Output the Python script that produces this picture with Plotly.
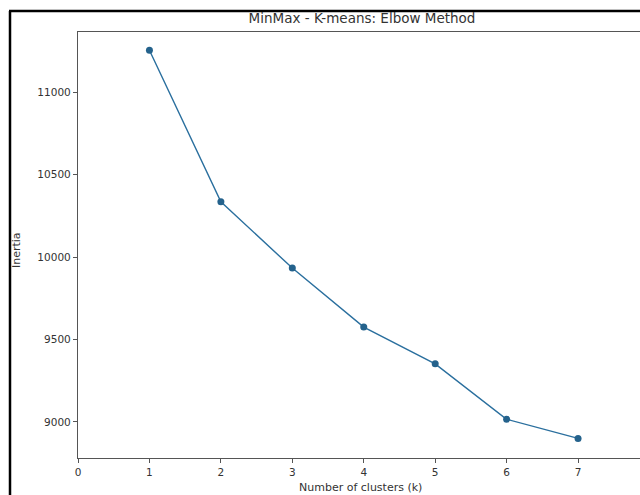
import plotly.graph_objects as go

# Data
clusters = [1, 2, 3, 4, 5, 6, 7]
inertia = [11254, 10335, 9933, 9575, 9352, 9016, 8900]
x_ticks = [0, 1, 2, 3, 4, 5, 6, 7]
y_ticks = [9000, 9500, 10000, 10500, 11000]

W, H = 640, 495
L, R, T, B = 78, 0, 32, 37
pw = W - L - R
ph = H - T - B

def px_x(p):
    return (p - L) / pw

def px_y(p):
    return (H - B - p) / ph

fig = go.Figure()
fig.add_trace(go.Scatter(
    x=clusters, y=inertia, mode="lines+markers",
    line=dict(color="#2a6f9e", width=1.4),
    marker=dict(color="#24628c", size=7),
    showlegend=False, hoverinfo="skip",
))

axis_font = dict(family="DejaVu Sans", size=10.5, color="#333333")
fig.update_layout(
    width=W, height=H,
    margin=dict(l=L, r=R, t=T, b=B, pad=0),
    paper_bgcolor="white", plot_bgcolor="white",
    title=dict(text="MinMax - K-means: Elbow Method", xref="container", x=362 / W,
               yref="container", y=1 - 18 / H, xanchor="center", yanchor="middle",
               font=dict(family="DejaVu Sans", size=13.5, color="#333333")),
    xaxis=dict(range=[0, 7.867], tickvals=x_ticks, ticktext=[str(v) for v in x_ticks],
               showgrid=False, zeroline=False, showline=True, linecolor="#555555",
               linewidth=1.3, mirror=True, ticks="outside", ticklen=4, tickcolor="#555555",
               tickfont=axis_font),
    yaxis=dict(range=[8781, 11365], tickvals=y_ticks, ticktext=[str(v) for v in y_ticks],
               showgrid=False, zeroline=False, showline=True, linecolor="#555555",
               linewidth=1.3, ticks="outside", ticklen=4, tickcolor="#555555",
               tickfont=axis_font),
    annotations=[
        dict(text="Number of clusters (k)", xref="paper", yref="paper",
             x=px_x(360), y=px_y(488), showarrow=False, xanchor="center", yanchor="middle",
             font=dict(family="DejaVu Sans", size=11, color="#333333")),
        dict(text="Inertia", xref="paper", yref="paper", textangle=-90,
             x=px_x(16), y=px_y(250), showarrow=False, xanchor="center", yanchor="middle",
             font=dict(family="DejaVu Sans", size=11, color="#333333")),
    ],
    shapes=[
        dict(type="line", xref="paper", yref="paper", x0=px_x(10), x1=px_x(10),
             y0=px_y(11), y1=px_y(495), line=dict(color="black", width=2.5)),
        dict(type="line", xref="paper", yref="paper", x0=px_x(9), x1=px_x(640),
             y0=px_y(11), y1=px_y(11), line=dict(color="black", width=2.5)),
    ],
)

fig.write_html("out.html", config={"displayModeBar": False})
